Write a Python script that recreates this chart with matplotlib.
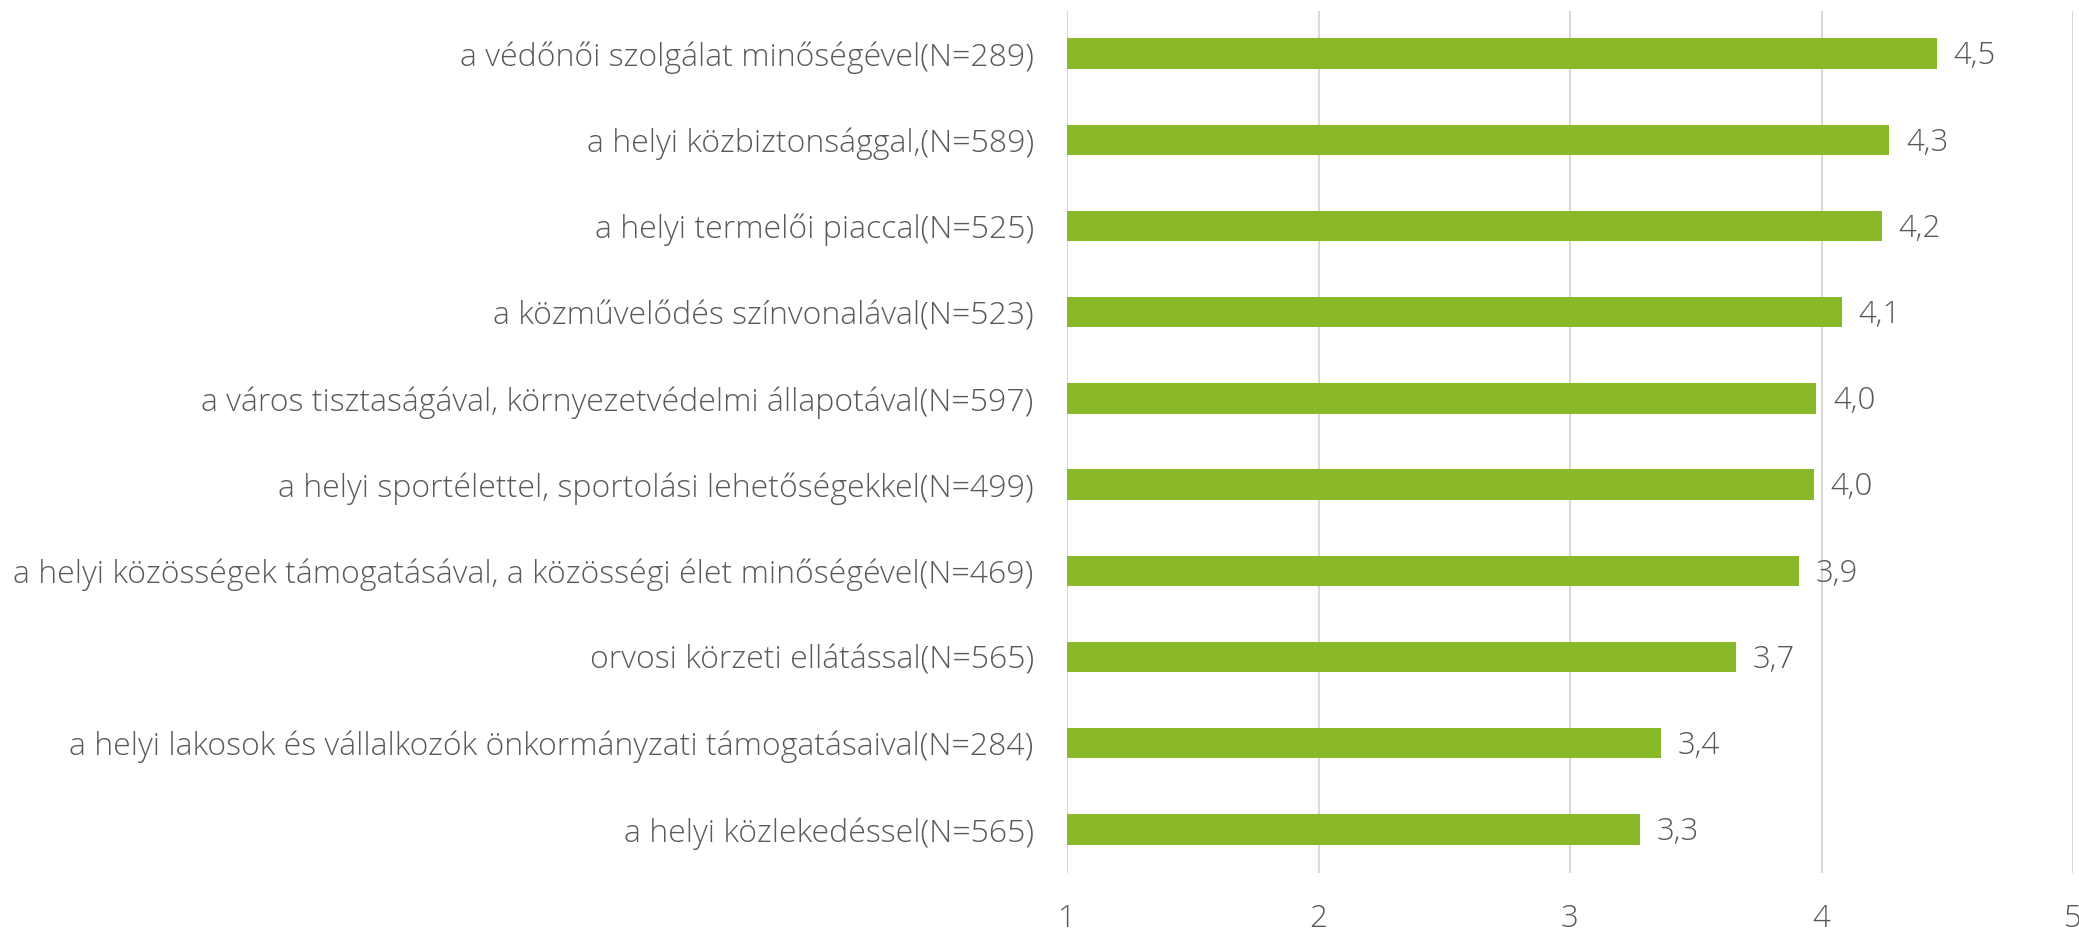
'''Satisfaction averages by service area, horizontal bar chart.'''

import matplotlib
matplotlib.use("Agg")
import matplotlib.pyplot as plt

categories = [
    "a védőnői szolgálat minőségével(N=289)",
    "a helyi közbiztonsággal,(N=589)",
    "a helyi termelői piaccal(N=525)",
    "a közművelődés színvonalával(N=523)",
    "a város tisztaságával, környezetvédelmi állapotával(N=597)",
    "a helyi sportélettel, sportolási lehetőségekkel(N=499)",
    "a helyi közösségek támogatásával, a közösségi élet minőségével(N=469)",
    "orvosi körzeti ellátással(N=565)",
    "a helyi lakosok és vállalkozók önkormányzati támogatásaival(N=284)",
    "a helyi közlekedéssel(N=565)",
]
averages = [4.46, 4.27, 4.24, 4.08, 3.98, 3.97, 3.91, 3.66, 3.36, 3.28]
x_ticks = [1, 2, 3, 4, 5]

GREEN = "#89b828"
TEXT = "#595959"
GRID = "#d9d9d9"

plt.rcParams["font.family"] = ["Open Sans", "DejaVu Sans"]

fig = plt.figure(figsize=(20.79, 9.33), dpi=100)
ax = fig.add_axes([1067 / 2079, 1 - 872.5 / 933, 1006 / 2079, 862 / 933])

pos = list(range(len(categories)))
ax.barh(pos, averages, height=0.354, color=GREEN, zorder=3)

for y, v in zip(pos, averages):
    ax.annotate(f"{v:.1f}".replace(".", ","), (v, y), xytext=(12, -2),
                textcoords="offset points", va="center", ha="left",
                fontsize=22.5, color=TEXT, fontweight="light")

ax.set_xlim(1, 5)
ax.set_ylim(len(categories) - 0.5, -0.5)
ax.set_xticks(x_ticks)
ax.set_xticklabels([str(t) for t in x_ticks])
ax.set_yticks(pos)
ax.set_yticklabels(categories)

ax.grid(axis="x", color=GRID, linewidth=1.5, zorder=0)
ax.set_axisbelow(True)
for s in ax.spines.values():
    s.set_visible(False)

ax.tick_params(axis="y", length=0, pad=24, labelsize=23, labelcolor=TEXT)
ax.tick_params(axis="x", length=0, pad=22, labelsize=22.5, labelcolor=TEXT)
for lbl in ax.get_xticklabels() + ax.get_yticklabels():
    lbl.set_fontweight("light")

fig.savefig("out.png", dpi=100)
